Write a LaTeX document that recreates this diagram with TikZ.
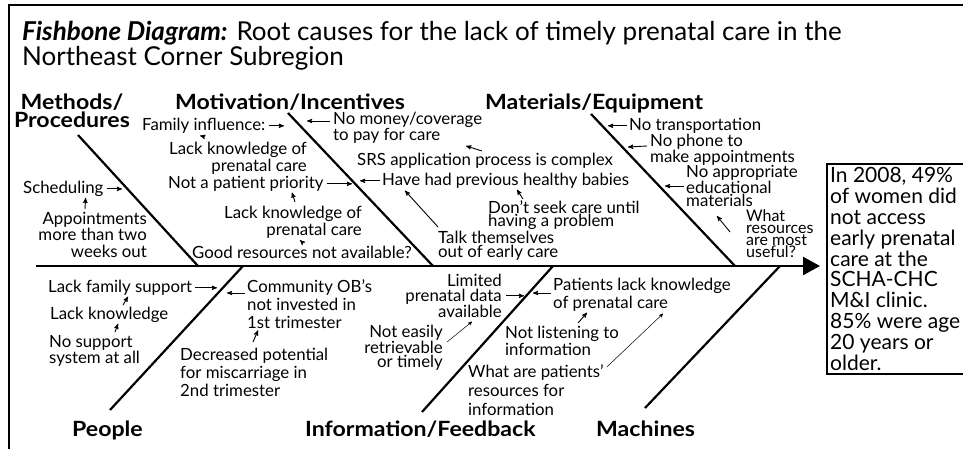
\documentclass[tikz,border=0pt]{standalone}
\usepackage{fontspec}
\setmainfont{Lato}
\newfontfamily\headfont[FakeStretch=1.1]{Lato}
\usepackage{tikz}
\usetikzlibrary{arrows}
\usetikzlibrary{arrows.meta}
\usetikzlibrary{positioning}
\tikzset{bone/.style = {line width=2.2pt}}
\tikzset{cue/.style = {line width=0.9pt, -stealth'}}
\tikzset{thincue/.style = {line width=0.5pt, -stealth'}}
\tikzset{cause/.style = {inner sep=0, font=\fontsize{16.8}{13.5}\selectfont}}
\tikzset{head/.style = {inner sep=0, font=\headfont\bfseries\fontsize{21}{18}\selectfont}}

\begin{document}
\begin{tikzpicture}[x=1pt, y=-1pt]
    \useasboundingbox (0,0) rectangle (963,449);

    % frame
    \draw [line width=2.5pt] (9,449) -- (9,5) -- (963,5);

    \node [anchor=north west, inner sep=0, align=left,
           font=\fontsize{26}{25}\selectfont] (title) at (22,21)
          {\textbf{\textit{Fishbone Diagram:}} Root causes for the lack of timely prenatal care in the\\
           Northeast Corner Subregion};

    % effect box and spine
    \node [draw, line width=1.6pt, anchor=north west, minimum width=137, minimum height=210,
           inner sep=0] (box) at (826,163) {};
    \node [anchor=north west, inner sep=0, align=left,
           font=\fontsize{21}{20.9}\selectfont] (effect) at (830,167)
          {In 2008, 49\%\\of women did\\not access\\early prenatal\\care at the\\SCHA-CHC\\
           M\&I clinic.\\85\% were age\\20 years or\\older.};
    \coordinate (tail) at (36,266);
    \draw [bone, -{Triangle[length=17pt, width=18pt]}, shorten >=6pt] (tail) -- (tail -| box.west);

    % bones
    \coordinate (me1) at (78,135);   \coordinate (me2) at (198,266);
    \coordinate (mo1) at (288,113);  \coordinate (mo2) at (433,266);
    \coordinate (ma1) at (591,114);  \coordinate (ma2) at (735,266);
    \coordinate (pe1) at (110,410);  \coordinate (pe2) at (243,266);
    \coordinate (in1) at (422,412);  \coordinate (in2) at (553,266);
    \coordinate (mc1) at (645,408);  \coordinate (mc2) at (780,266);
    \foreach \b in {me, mo, ma, pe, in, mc}
        \draw [bone] (\b1) -- (\b2);

    % headings
    \node [head, align=center, anchor=north] (meth) at (72,94) {Methods/\\Procedures};
    \node [head, anchor=north west] (motiv) at (175,94) {Motivation/Incentives};
    \node [head, anchor=north west] (mater) at (485,94) {Materials/Equipment};
    \node [head, anchor=north west] (people) at (72,421) {People};
    \node [head, anchor=north west] (info) at (305,421) {Information/Feedback};
    \node [head, anchor=north west] (mach) at (596,421) {Machines};

    % methods
    \node [cause, anchor=north west] (sched) at (23,181) {Scheduling};
    \node [cause, anchor=north east, align=right, font=\fontsize{16.8}{16.5}\selectfont]
          (appt) at (147,212) {Appointments\\more than two\\weeks out};
    \coordinate (tSched) at (122,188);
    \draw [cue] ([xshift=3pt]sched.east) -- (tSched |- sched.east);
    \draw [cue] ([xshift=-62pt, yshift=3pt]appt.north east) -- ([xshift=-18pt, yshift=-1pt]sched.south east);

    % motivation
    \node [cause, anchor=north west] (famil) at (142,118) {Family influence:};
    \node [cause, anchor=north east, align=right] (lackA) at (307,142) {Lack knowledge of\\prenatal care};
    \node [cause, anchor=north west] (prior) at (168,176) {Not a patient priority};
    \node [cause, anchor=north east, align=right] (lackB) at (362,206) {Lack knowledge of\\prenatal care};
    \node [cause, anchor=north west] (good) at (192,246) {Good resources not available?};
    \node [cause, anchor=north west, align=left] (money) at (333,112) {No money/coverage\\to pay for care};
    \node [cause, anchor=north west] (srs) at (357,153) {SRS application process is complex};
    \node [cause, anchor=north west] (babies) at (382,173) {Have had previous healthy babies};
    \node [cause, anchor=north west, align=left, font=\fontsize{16.8}{14}\selectfont]
          (talk) at (438,231) {Talk themselves\\out of early care};
    \node [cause, anchor=north west, align=left] (seek) at (488,200) {Don't seek care until\\having a problem};
    \coordinate (tFamil) at (284,125);
    \coordinate (tMoney) at (307,121);
    \coordinate (tPrior) at (352,183);
    \coordinate (tBabies) at (360,179);
    \draw [cue] ([xshift=3pt]famil.east) -- (tFamil |- famil.east);
    \draw [cue] ([xshift=-3pt, yshift=-9pt]money.north west) -- (tMoney);
    \draw [cue] ([xshift=3pt]prior.east) -- (tPrior |- prior.east);
    \draw [cue] ([xshift=-2pt]babies.west) -- (tBabies |- babies.west);
    \draw [cue] ([xshift=-102pt, yshift=5pt]lackA.north east) -- ([xshift=58pt, yshift=-2pt]famil.south west);
    \draw [cue] ([xshift=-67pt, yshift=4pt]lackB.north east) -- ([xshift=124pt, yshift=-1pt]prior.south west);
    \draw [cue] ([xshift=111pt, yshift=3pt]good.north west) -- ([xshift=-62pt, yshift=-2pt]lackB.south east);
    \draw [cue] ([xshift=125pt, yshift=2pt]srs.north west) -- ([xshift=133pt, yshift=-2pt]money.south west);
    \draw [cue] ([yshift=4pt]talk.north west) -- ([xshift=23pt, yshift=-2pt]babies.south west);
    \draw [cue] ([xshift=35pt, yshift=1pt]seek.north west) -- ([xshift=135pt, yshift=-1pt]babies.south west);

    % materials
    \node [cause, anchor=north west] (transp) at (629,118) {No transportation};
    \node [cause, anchor=north west, align=left, font=\fontsize{16.8}{12.5}\selectfont]
          (phone) at (650,134) {No phone to\\make appointments};
    \node [cause, anchor=north west, align=left, font=\fontsize{16.8}{13}\selectfont]
          (approp) at (686,165) {No appropriate\\educational\\materials};
    \node [cause, anchor=north west, align=left, font=\fontsize{16}{12}\selectfont]
          (useful) at (746,210) {What\\resources\\are most\\useful?};
    \coordinate (tTransp) at (608,123);
    \coordinate (tPhone) at (628,147);
    \coordinate (tApprop) at (665,185);
    \draw [cue] ([xshift=-2pt]transp.west) -- (tTransp |- transp.west);
    \draw [cue] ([xshift=-3pt, yshift=-12pt]phone.north west) -- (tPhone);
    \draw [cue] ([xshift=-2pt]approp.west) -- (tApprop |- approp.west);
    \draw [cue] ([xshift=-16pt, yshift=-22pt]useful.north west) -- ([xshift=31pt, yshift=-9pt]approp.south west);

    % people
    \node [cause, anchor=north west] (famsup) at (48,280) {Lack family support};
    \node [cause, anchor=north west] (lackK) at (50,307) {Lack knowledge};
    \node [cause, anchor=north west, align=left] (nosup) at (49,335) {No support\\system at all};
    \node [cause, anchor=north west, align=left, font=\fontsize{16.8}{18}\selectfont]
          (commob) at (247,279) {Community OB's\\not invested in\\1st trimester};
    \node [cause, anchor=north west, align=left, font=\fontsize{16.8}{18}\selectfont]
          (decr) at (180,348) {Decreased potential\\for miscarriage in\\2nd trimester};
    \coordinate (tFamsup) at (217,287);
    \coordinate (tCommob) at (227,293);
    \draw [cue] ([xshift=3pt]famsup.east) -- (tFamsup |- famsup.east);
    \draw [cue] ([xshift=-2pt, yshift=-14pt]commob.north west) -- (tCommob);
    \draw [cue] ([xshift=73pt, yshift=2pt]lackK.north west) -- ([xshift=80pt, yshift=-1pt]famsup.south west);
    \draw [cue] ([xshift=66pt, yshift=3pt]nosup.north west) -- ([xshift=68pt, yshift=-1pt]lackK.south west);
    \draw [cue] ([xshift=73pt, yshift=6pt]decr.north west) -- ([xshift=11pt, yshift=-2pt]commob.south west);

    % information
    \node [cause, anchor=north east, align=right, font=\fontsize{16.8}{14.5}\selectfont]
          (limited) at (502,274) {Limited\\prenatal data\\available};
    \node [cause, anchor=north west, align=left, font=\fontsize{16.8}{18}\selectfont]
          (patlack) at (553,278) {Patients lack knowledge\\of prenatal care};
    \node [cause, anchor=north east, align=right, font=\fontsize{16.8}{14}\selectfont]
          (noteasy) at (443,325) {Not easily\\retrievable\\or timely};
    \node [cause, anchor=north west, align=left, font=\fontsize{16.8}{17}\selectfont]
          (notlist) at (505,326) {Not listening to\\information};
    \node [cause, anchor=north west, align=left, font=\fontsize{16.8}{19}\selectfont]
          (whatpat) at (468,364) {What are patients'\\resources for\\information};
    \coordinate (tLimited) at (524,295);
    \coordinate (tPatlack) at (533,293);
    \draw [cue] ([xshift=4pt]limited.east) -- (tLimited |- limited.east);
    \draw [cue] ([xshift=-2pt, yshift=-15pt]patlack.north west) -- (tPatlack);
    \draw [thincue] ([xshift=4pt, yshift=-17pt]noteasy.north east) -- ([xshift=-30pt, yshift=-4pt]limited.south east);
    \draw [cue] ([xshift=73pt, yshift=3pt]notlist.north west) -- ([xshift=34pt, yshift=-1pt]patlack.south west);
    \draw [thincue] ([xshift=3pt, yshift=-3pt]whatpat.north east) -- ([xshift=110pt, yshift=-2pt]patlack.south west);
\end{tikzpicture}
\end{document}
